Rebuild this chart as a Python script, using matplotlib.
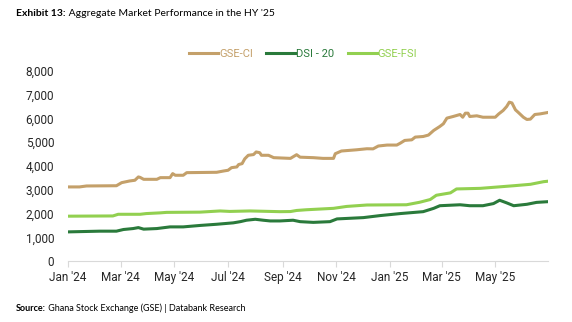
import matplotlib
matplotlib.use("Agg")
import matplotlib.pyplot as plt
import matplotlib.dates as mdates
import pandas as pd

# values
ci_dates = ["2024-01-01", "2024-01-14", "2024-01-22", "2024-02-25", "2024-03-02",
            "2024-03-11", "2024-03-17", "2024-03-21", "2024-03-23", "2024-03-27",
            "2024-04-11", "2024-04-15", "2024-04-26", "2024-04-29", "2024-05-02",
            "2024-05-11", "2024-05-15", "2024-06-18", "2024-06-26", "2024-07-01",
            "2024-07-05", "2024-07-11", "2024-07-13", "2024-07-17", "2024-07-20",
            "2024-07-24", "2024-07-30", "2024-08-02", "2024-08-06", "2024-08-08",
            "2024-08-16", "2024-08-22", "2024-09-10", "2024-09-17", "2024-09-21",
            "2024-10-06", "2024-10-17", "2024-10-29", "2024-10-31", "2024-11-07",
            "2024-11-24", "2024-12-06", "2024-12-13", "2024-12-19", "2024-12-29",
            "2025-01-09", "2025-01-13", "2025-01-18", "2025-01-26", "2025-01-30",
            "2025-02-08", "2025-02-14", "2025-02-20", "2025-02-27", "2025-03-03",
            "2025-03-07", "2025-03-14", "2025-03-22", "2025-03-25", "2025-03-28",
            "2025-03-31", "2025-04-02", "2025-04-10", "2025-04-17", "2025-05-01",
            "2025-05-05", "2025-05-10", "2025-05-14", "2025-05-17", "2025-05-20",
            "2025-05-24", "2025-05-27", "2025-06-02", "2025-06-06", "2025-06-10",
            "2025-06-15", "2025-06-21", "2025-06-30"]
gse_ci = [3120, 3120, 3160, 3170, 3300, 3370, 3400, 3540, 3520, 3440,
          3440, 3510, 3510, 3680, 3610, 3610, 3720, 3735, 3790, 3820,
          3930, 3960, 4060, 4100, 4300, 4450, 4480, 4590, 4560, 4450,
          4450, 4350, 4320, 4475, 4370, 4350, 4320, 4320, 4516, 4630,
          4680, 4725, 4720, 4840, 4880, 4880, 4960, 5075, 5100, 5215,
          5240, 5300, 5495, 5663, 5775, 6012, 6080, 6165, 6050, 6220,
          6220, 6080, 6110, 6050, 6050, 6190, 6334, 6500, 6683, 6650,
          6360, 6260, 6050, 5956, 5970, 6165, 6190, 6250]

dsi_dates = ["2024-01-01", "2024-02-06", "2024-02-25", "2024-03-04", "2024-03-15",
             "2024-03-21", "2024-03-27", "2024-04-11", "2024-04-26", "2024-05-11",
             "2024-05-30", "2024-06-18", "2024-07-07", "2024-07-15", "2024-07-22",
             "2024-08-01", "2024-08-10", "2024-08-18", "2024-08-29", "2024-09-13",
             "2024-09-21", "2024-10-06", "2024-10-25", "2024-11-02", "2024-12-02",
             "2024-12-21", "2025-01-13", "2025-02-08", "2025-02-20", "2025-02-27",
             "2025-03-22", "2025-04-02", "2025-04-17", "2025-04-29", "2025-05-06",
             "2025-05-14", "2025-05-22", "2025-06-06", "2025-06-17", "2025-06-30"]
dsi_20 = [1230, 1260, 1260, 1330, 1370, 1410, 1345, 1370, 1440, 1440,
          1500, 1550, 1610, 1660, 1720, 1760, 1720, 1690, 1690, 1720,
          1660, 1630, 1660, 1775, 1830, 1915, 2000, 2080, 2220, 2330,
          2370, 2330, 2330, 2420, 2560, 2450, 2330, 2390, 2470, 2500]

fsi_dates = ["2024-01-01", "2024-02-21", "2024-02-27", "2024-03-23", "2024-03-30",
             "2024-04-15", "2024-04-22", "2024-05-30", "2024-06-22", "2024-07-03",
             "2024-07-26", "2024-08-29", "2024-09-10", "2024-09-17", "2024-09-28",
             "2024-10-29", "2024-11-13", "2024-12-06", "2025-01-20", "2025-02-04",
             "2025-02-16", "2025-02-23", "2025-03-11", "2025-03-18", "2025-04-14",
             "2025-05-22", "2025-06-10", "2025-06-25", "2025-06-30"]
gse_fsi = [1890, 1900, 1970, 1970, 2000, 2030, 2050, 2060, 2110, 2090,
           2110, 2080, 2085, 2130, 2160, 2220, 2300, 2360, 2370, 2475,
           2590, 2770, 2870, 3035, 3060, 3170, 3230, 3340, 3360]

tick_dates = ["2024-01-01", "2024-03-01", "2024-05-01", "2024-07-01", "2024-09-01",
              "2024-11-01", "2025-01-01", "2025-03-01", "2025-05-01"]

c_ci = "#C4A06A"
c_dsi = "#2A7A3B"
c_fsi = "#92D050"

plt.rcParams["font.family"] = ["Roboto", "DejaVu Sans"]

fig = plt.figure(figsize=(5.72, 3.22), dpi=100)
ax = fig.add_axes([0.119, 0.189, 0.839, 0.591])

l1, = ax.plot(pd.to_datetime(ci_dates), gse_ci, color=c_ci, lw=2.2, label="GSE-CI")
l2, = ax.plot(pd.to_datetime(dsi_dates), dsi_20, color=c_dsi, lw=2.2, label="DSI - 20")
l3, = ax.plot(pd.to_datetime(fsi_dates), gse_fsi, color=c_fsi, lw=2.2, label="GSE-FSI")

ax.set_xlim(pd.Timestamp("2024-01-01"), pd.Timestamp("2025-06-30"))
ax.set_ylim(0, 8000)
ax.set_yticks(range(0, 8001, 1000))
ax.yaxis.set_major_formatter(matplotlib.ticker.FuncFormatter(lambda v, p: f"{int(v):,}"))
ax.set_xticks(pd.to_datetime(tick_dates))
ax.xaxis.set_major_formatter(mdates.DateFormatter("%b '%y"))

for s in ["top", "right", "left"]:
    ax.spines[s].set_visible(False)
ax.spines["bottom"].set_color("#D9D9D9")
ax.tick_params(axis="y", length=0, pad=10, labelsize=8.5, labelcolor="#262626")
ax.tick_params(axis="x", length=4, color="#D9D9D9", pad=3, labelsize=8.5, labelcolor="#262626")

leg = fig.legend(handles=[l1, l2, l3], loc="center", bbox_to_anchor=(0.53, 0.833),
                 ncol=3, frameon=False, fontsize=8, handlelength=2.6,
                 handletextpad=0.1, columnspacing=1.2)
for txt, c in zip(leg.get_texts(), [c_ci, c_dsi, c_fsi]):
    txt.set_color(c)

# title and source with a bold lead-in
t = fig.text(0.028, 0.958, "Exhibit 13:", fontsize=7.5, family="Lato",
             weight="bold", va="center")
s = fig.text(0.028, 0.042, "Source:", fontsize=6.5, family="Lato", weight="bold", va="center")
fig.canvas.draw()
bb = t.get_window_extent()
fig.text(bb.x1 / fig.bbox.width, 0.958, " Aggregate Market Performance in the HY '25",
         fontsize=7.5, family="Lato", va="center")
bb = s.get_window_extent()
fig.text(bb.x1 / fig.bbox.width, 0.042, " Ghana Stock Exchange (GSE) | Databank Research",
         fontsize=6.5, family="Lato", va="center")

fig.savefig("out.png", dpi=100)
